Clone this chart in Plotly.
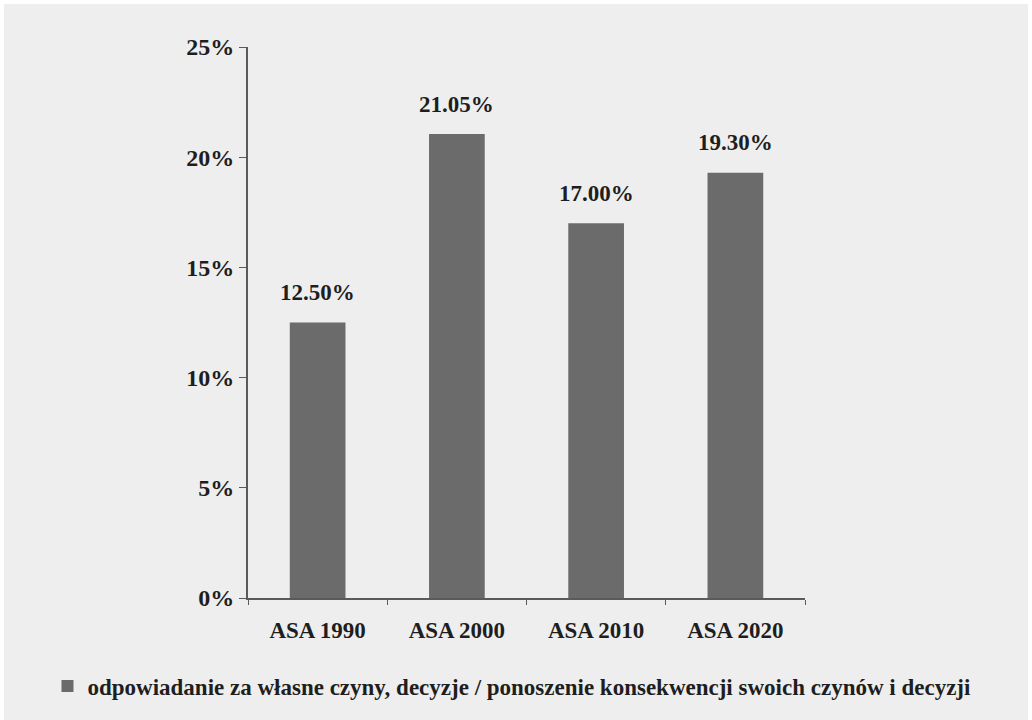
import plotly.graph_objects as go

categories = ["ASA 1990", "ASA 2000", "ASA 2010", "ASA 2020"]
values = [0.125, 0.2105, 0.17, 0.193]
series_name = "odpowiadanie za własne czyny, decyzje / ponoszenie konsekwencji swoich czynów i decyzji"
y_ticks = [0, 0.05, 0.10, 0.15, 0.20, 0.25]
y_tick_labels = ["0%", "5%", "10%", "15%", "20%", "25%"]

FONT = "Liberation Serif"
TXT = "#1e1e1e"
BG = "#eeeeee"
BAR = "#6b6b6b"
AX = "#5a5a5a"

fig = go.Figure(go.Bar(
    x=categories,
    y=values,
    name=series_name,
    marker=dict(color=BAR, line=dict(width=0)),
    width=0.4,
    showlegend=True,
))

# value labels above bars
for c, v in zip(categories, values):
    fig.add_annotation(
        x=c, y=v, text=f"{v*100:.2f}%", showarrow=False,
        yshift=30, font=dict(family=FONT, size=23, color=TXT, weight="bold"),
    )

fig.update_layout(
    width=1028, height=716,
    paper_bgcolor=BG, plot_bgcolor=BG,
    margin=dict(l=244, r=227, t=43, b=120),
    font=dict(family=FONT, color=TXT),
    legend=dict(
        orientation="h", x=-0.36, xanchor="left", y=-0.16, yanchor="middle",
        font=dict(family=FONT, size=23, color=TXT, weight="bold"),
        bgcolor="rgba(0,0,0,0)", itemwidth=30,
    ),
    xaxis=dict(
        showline=True, linecolor=AX, linewidth=2,
        ticks="outside", tickson="boundaries", ticklen=5, tickcolor=AX,
        tickfont=dict(family=FONT, size=23, color=TXT, weight="bold"),
        ticklabelstandoff=10,
        showgrid=False,
    ),
    yaxis=dict(
        range=[0, 0.25], tickvals=y_ticks, ticktext=y_tick_labels,
        showline=True, linecolor=AX, linewidth=2,
        ticks="outside", ticklen=7, tickcolor=AX,
        tickfont=dict(family=FONT, size=24, color=TXT, weight="bold"),
        showgrid=False, zeroline=False,
    ),
)

fig.write_html("out.html", post_script="document.body.style.margin='4px';")
